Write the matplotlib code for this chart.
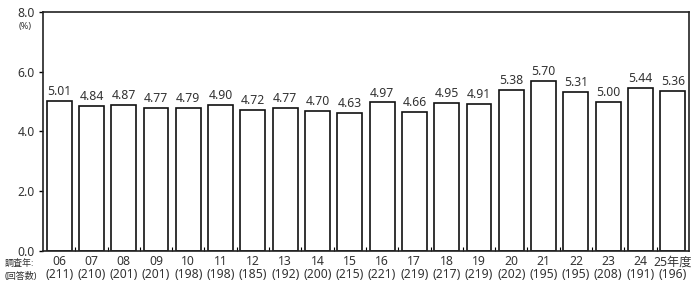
import numpy as np
import matplotlib
matplotlib.use("Agg")
import matplotlib.pyplot as plt

plt.rcParams['font.family'] = ['Noto Sans', 'Noto Sans CJK JP', 'DejaVu Sans']

years = ["06", "07", "08", "09", "10", "11", "12", "13", "14", "15",
         "16", "17", "18", "19", "20", "21", "22", "23", "24", "25年度"]
counts = [211, 210, 201, 201, 198, 198, 185, 192, 200, 215,
          221, 219, 217, 219, 202, 195, 195, 208, 191, 196]
rates = [5.01, 4.84, 4.87, 4.77, 4.79, 4.90, 4.72, 4.77, 4.70, 4.63,
         4.97, 4.66, 4.95, 4.91, 5.38, 5.70, 5.31, 5.00, 5.44, 5.36]

txt = '#333333'
fig = plt.figure(figsize=(6.98, 2.84), dpi=100)
ax = fig.add_axes([0.0616, 0.116, 0.9254, 0.842])

x = np.arange(len(rates))
ax.bar(x, rates, width=0.77, color='white', edgecolor='#111111', linewidth=1.2)
for xi, v in zip(x, rates):
    ax.text(xi, v + 0.1, f"{v:.2f}", ha='center', va='bottom', fontsize=8.8, color=txt)

ax.set_xlim(-0.5, len(rates) - 0.5)
ax.set_ylim(0, 8)
ax.set_yticks([0, 2, 4, 6, 8])
ax.set_yticklabels([f"{t:.1f}" for t in [0, 2, 4, 6, 8]], fontsize=8.8, color=txt)
ax.set_xticks(x)
ax.set_xticklabels([f"{y}\n({c})" for y, c in zip(years, counts)],
                   fontsize=8.8, color=txt, linespacing=0.95)
ax.tick_params(axis='x', length=0, pad=3)
ax.tick_params(axis='y', length=3, width=1, pad=3)
ax.set_xticks(np.arange(0.5, len(rates) - 1, 1), minor=True)
ax.tick_params(axis='x', which='minor', direction='in', length=3, width=0.8)
for s in ax.spines.values():
    s.set_color('#222222')
    s.set_linewidth(1.2)

ax.text(-0.028, 0.937, "(%)", transform=ax.transAxes, fontsize=6.5, color=txt,
        ha='center', va='center')
fig.text(0.006, 0.088, "調査年:\n(回答数)", fontsize=6.5, color=txt, ha='left',
         va='top', linespacing=1.55)

fig.savefig("out.png", dpi=100)
